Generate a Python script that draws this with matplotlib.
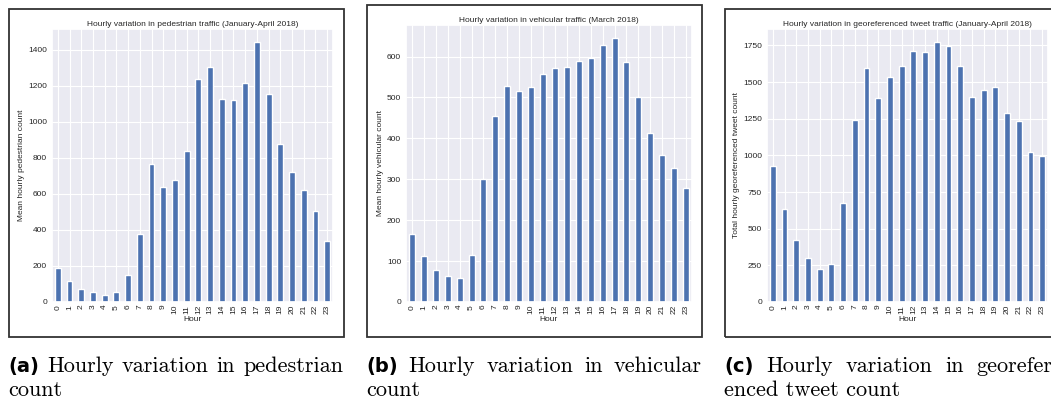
import numpy as np
import matplotlib
matplotlib.use("Agg")
import matplotlib.pyplot as plt
import seaborn as sns
from matplotlib.patches import Rectangle

# valeurs
hours = list(range(24))
pedestrian = [187, 117, 72, 54, 41, 56, 150, 378, 765, 637, 680, 841,
              1239, 1304, 1126, 1122, 1215, 1444, 1156, 880, 722, 624, 507, 337]
vehicular = [167, 113, 79, 64, 58, 114, 300, 455, 528, 517, 526, 558,
             572, 574, 589, 596, 629, 645, 587, 500, 412, 359, 328, 278]
tweets = [926, 631, 420, 302, 222, 261, 672, 1239, 1598, 1389, 1534, 1609,
          1709, 1707, 1773, 1748, 1607, 1396, 1448, 1466, 1291, 1232, 1024, 994]

titles = ["Hourly variation in pedestrian traffic (January-April 2018)",
          "Hourly variation in vehicular traffic (March 2018)",
          "Hourly variation in georeferenced tweet traffic (January-April 2018)"]
ylabels = ["Mean hourly pedestrian count",
           "Mean hourly vehicular count",
           "Total hourly georeferenced tweet count"]
captions = [("(a)", ["Hourly", "variation", "in", "pedestrian"], "count"),
            ("(b)", ["Hourly", "variation", "in", "vehicular"], "count"),
            ("(c)", ["Hourly", "variation", "in", "georefer-"], "enced tweet count")]

sns.set_theme(style="darkgrid")
plt.rcParams['font.family'] = ['Liberation Sans', 'DejaVu Sans']

W, H = 1051, 401
fig = plt.figure(figsize=(W / 100, H / 100), dpi=100)


def box(l, t, r, b):
    return [l / W, 1 - b / H, (r - l) / W, (b - t) / H]


# positions en pixels : cadre, axes, zone de légende
frames = [(8.5, 9, 344, 337), (366.5, 4.5, 702, 337), (724.5, 9, 1200, 337)]
axboxes = [(52, 29, 333, 302), (406, 25, 692, 302), (767, 29, 1048, 302)]
cap_x = [(8, 343), (366, 702), (724, 1060)]

data = [pedestrian, vehicular, tweets]

for i in range(3):
    l, t, r, b = frames[i]
    fig.add_artist(Rectangle((l / W, 1 - b / H), (r - l) / W, (b - t) / H,
                             fill=False, ec='#333333', lw=1.3,
                             transform=fig.transFigure, clip_on=False))
    ax = fig.add_axes(box(*axboxes[i]))
    vals = np.array(data[i])
    ax.bar(hours, vals, width=0.5, color='#4C72B0')
    ax.set_xlim(-0.5, 23.5)
    ax.set_ylim(0, vals.max() * 1.05)
    ax.set_xticks(hours)
    ax.set_xticklabels([str(h) for h in hours], rotation=90)
    ax.tick_params(axis='both', labelsize=6, colors='.15', length=0)
    ax.tick_params(axis='y', pad=3.5)
    ax.tick_params(axis='x', pad=2)
    ax.set_title(titles[i], fontsize=6, pad=2.5, color='.15')
    ax.set_ylabel(ylabels[i], fontsize=6, labelpad=2, color='.15')
    ax.set_xlabel("Hour", fontsize=6, labelpad=1.5, color='.15')
    ax.grid(True, color='white', lw=0.8)

# légendes sous les panneaux (texte justifié)
fig.canvas.draw()
rend = fig.canvas.get_renderer()
y1 = 1 - 372 / H
y2 = 1 - 396 / H
for i in range(3):
    tag, words, line2 = captions[i]
    xl, xr = cap_x[i]
    items = [fig.text(0, y1, tag, fontsize=14, fontweight='bold',
                      family='DejaVu Sans', color='black')]
    for w in words:
        items.append(fig.text(0, y1, w, fontsize=16, family='cmr10', color='black'))
    widths = [it.get_window_extent(rend).width for it in items]
    gap = (xr - xl - sum(widths)) / (len(items) - 1)
    x = xl
    for it, wd in zip(items, widths):
        it.set_x(x / W)
        x += wd + gap
    fig.text(xl / W, y2, line2, fontsize=16, family='cmr10', color='black')

fig.savefig("out.png", dpi=100)
